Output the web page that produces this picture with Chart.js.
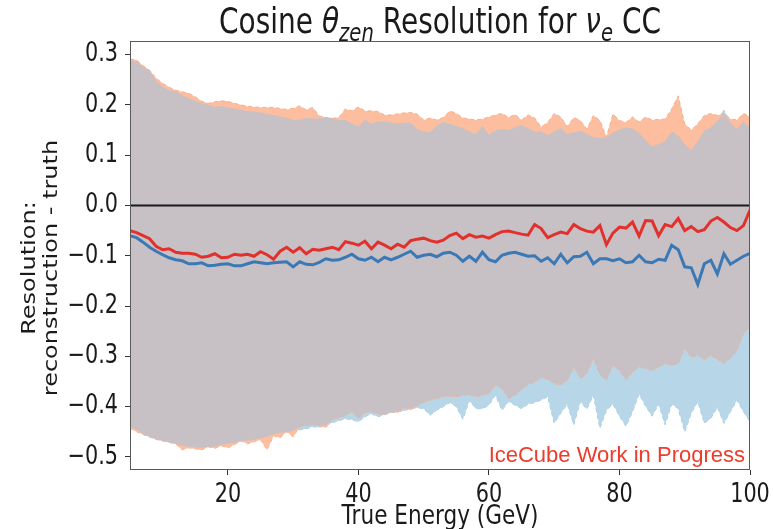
<!DOCTYPE html>
<html>
<head>
<meta charset="utf-8">
<script src="https://cdn.jsdelivr.net/npm/chart.js@4.4.0/dist/chart.umd.min.js"></script>
<style>
  html, body { margin: 0; padding: 0; background: #fff; }
  #wrap { width: 773px; height: 529px; }
</style>
</head>
<body>
<div id="wrap"><canvas id="resChart" width="773" height="529"></canvas></div>
<script>
// true energy bins (GeV)
const energy = [
  5, 6, 7, 8, 9, 10, 11, 12, 13, 14, 15, 16, 17, 18, 19, 20, 21, 22, 23, 24,
  25, 26, 27, 28, 29, 30, 31, 32, 33, 34, 35, 36, 37, 38, 39, 40, 41, 42, 43, 44,
  45, 46, 47, 48, 49, 50, 51, 52, 53, 54, 55, 56, 57, 58, 59, 60, 61, 62, 63, 64,
  65, 66, 67, 68, 69, 70, 71, 72, 73, 74, 75, 76, 77, 78, 79, 80, 81, 82, 83, 84,
  85, 86, 87, 88, 89, 90, 91, 92, 93, 94, 95, 96, 97, 98, 99, 100
];

// median resolution per bin
const redMedian = [
  -0.050, -0.054, -0.060, -0.066, -0.081, -0.088, -0.086, -0.093, -0.095, -0.095,
  -0.097, -0.103, -0.101, -0.096, -0.104, -0.103, -0.097, -0.099, -0.097, -0.101,
  -0.092, -0.098, -0.107, -0.091, -0.083, -0.093, -0.084, -0.096, -0.087, -0.089,
  -0.086, -0.083, -0.088, -0.072, -0.075, -0.079, -0.071, -0.086, -0.073, -0.079,
  -0.086, -0.077, -0.083, -0.070, -0.067, -0.065, -0.070, -0.073, -0.069, -0.060,
  -0.055, -0.066, -0.058, -0.063, -0.061, -0.065, -0.058, -0.052, -0.051, -0.054,
  -0.057, -0.059, -0.038, -0.046, -0.064, -0.058, -0.053, -0.056, -0.038, -0.046,
  -0.051, -0.053, -0.040, -0.078, -0.055, -0.043, -0.045, -0.033, -0.061, -0.030,
  -0.031, -0.060, -0.038, -0.042, -0.026, -0.050, -0.042, -0.052, -0.048, -0.031,
  -0.024, -0.033, -0.044, -0.050, -0.040, -0.009
];
const blueMedian = [
  -0.060, -0.064, -0.073, -0.083, -0.091, -0.098, -0.104, -0.108, -0.110, -0.116,
  -0.116, -0.114, -0.120, -0.119, -0.117, -0.116, -0.120, -0.120, -0.116, -0.112,
  -0.114, -0.116, -0.114, -0.113, -0.112, -0.122, -0.112, -0.117, -0.118, -0.113,
  -0.106, -0.109, -0.108, -0.103, -0.097, -0.106, -0.109, -0.103, -0.112, -0.103,
  -0.108, -0.103, -0.097, -0.091, -0.103, -0.099, -0.097, -0.102, -0.095, -0.093,
  -0.099, -0.111, -0.101, -0.111, -0.093, -0.108, -0.112, -0.099, -0.095, -0.093,
  -0.097, -0.101, -0.100, -0.111, -0.104, -0.116, -0.097, -0.114, -0.102, -0.101,
  -0.093, -0.116, -0.106, -0.106, -0.110, -0.106, -0.114, -0.112, -0.099, -0.112,
  -0.114, -0.107, -0.109, -0.079, -0.088, -0.122, -0.124, -0.157, -0.116, -0.109,
  -0.136, -0.096, -0.117, -0.109, -0.101, -0.095
];

// upper / lower edges of the resolution bands
const redUpper = [
  0.291, 0.289, 0.278, 0.269, 0.253, 0.243, 0.235, 0.229, 0.226, 0.223,
  0.216, 0.207, 0.203, 0.206, 0.208, 0.207, 0.203, 0.200, 0.197, 0.196,
  0.195, 0.195, 0.195, 0.193, 0.191, 0.193, 0.198, 0.190, 0.195, 0.178,
  0.175, 0.173, 0.175, 0.192, 0.188, 0.196, 0.188, 0.188, 0.187, 0.180,
  0.180, 0.182, 0.184, 0.185, 0.182, 0.170, 0.174, 0.170, 0.175, 0.188,
  0.183, 0.174, 0.172, 0.170, 0.172, 0.176, 0.180, 0.183, 0.175, 0.181,
  0.170, 0.180, 0.174, 0.156, 0.165, 0.183, 0.176, 0.157, 0.175, 0.169,
  0.152, 0.179, 0.169, 0.136, 0.182, 0.169, 0.165, 0.176, 0.166, 0.176,
  0.170, 0.171, 0.172, 0.192, 0.218, 0.162, 0.150, 0.162, 0.179, 0.183,
  0.179, 0.184, 0.172, 0.170, 0.183, 0.176
];
const blueUpper = [
  0.288, 0.286, 0.276, 0.268, 0.248, 0.236, 0.229, 0.227, 0.219, 0.213,
  0.208, 0.203, 0.200, 0.196, 0.198, 0.195, 0.193, 0.190, 0.188, 0.187,
  0.185, 0.182, 0.180, 0.177, 0.175, 0.170, 0.171, 0.174, 0.173, 0.173,
  0.175, 0.173, 0.170, 0.170, 0.163, 0.157, 0.170, 0.163, 0.167, 0.167,
  0.165, 0.163, 0.165, 0.165, 0.152, 0.147, 0.146, 0.158, 0.167, 0.162,
  0.158, 0.154, 0.147, 0.142, 0.158, 0.141, 0.149, 0.152, 0.150, 0.155,
  0.160, 0.154, 0.147, 0.147, 0.140, 0.147, 0.154, 0.142, 0.145, 0.149,
  0.142, 0.136, 0.134, 0.136, 0.145, 0.151, 0.155, 0.153, 0.144, 0.130,
  0.117, 0.122, 0.128, 0.147, 0.139, 0.122, 0.110, 0.128, 0.149, 0.155,
  0.168, 0.189, 0.165, 0.152, 0.167, 0.154
];
const redLower = [
  -0.443, -0.450, -0.455, -0.460, -0.465, -0.468, -0.471, -0.474, -0.486, -0.482,
  -0.484, -0.486, -0.480, -0.483, -0.478, -0.482, -0.476, -0.468, -0.474, -0.470,
  -0.466, -0.486, -0.458, -0.462, -0.450, -0.460, -0.440, -0.438, -0.436, -0.438,
  -0.442, -0.426, -0.422, -0.418, -0.410, -0.424, -0.412, -0.410, -0.414, -0.416,
  -0.410, -0.412, -0.402, -0.406, -0.398, -0.392, -0.387, -0.384, -0.380, -0.380,
  -0.380, -0.378, -0.377, -0.380, -0.378, -0.374, -0.357, -0.364, -0.384, -0.377,
  -0.366, -0.356, -0.351, -0.342, -0.346, -0.354, -0.357, -0.347, -0.321, -0.344,
  -0.334, -0.304, -0.337, -0.347, -0.318, -0.328, -0.346, -0.331, -0.321, -0.324,
  -0.328, -0.321, -0.314, -0.318, -0.314, -0.284, -0.302, -0.298, -0.307, -0.298,
  -0.306, -0.314, -0.304, -0.288, -0.255, -0.240
];
const blueLower = [
  -0.440, -0.446, -0.455, -0.460, -0.465, -0.468, -0.471, -0.474, -0.478, -0.480,
  -0.481, -0.482, -0.480, -0.480, -0.476, -0.474, -0.472, -0.468, -0.468, -0.466,
  -0.463, -0.460, -0.455, -0.452, -0.450, -0.448, -0.446, -0.444, -0.440, -0.441,
  -0.437, -0.432, -0.428, -0.424, -0.426, -0.430, -0.420, -0.414, -0.420, -0.416,
  -0.412, -0.410, -0.408, -0.404, -0.402, -0.404, -0.417, -0.407, -0.400, -0.392,
  -0.400, -0.425, -0.388, -0.404, -0.404, -0.397, -0.377, -0.407, -0.390, -0.397,
  -0.404, -0.395, -0.392, -0.387, -0.380, -0.433, -0.413, -0.395, -0.436, -0.390,
  -0.405, -0.377, -0.443, -0.407, -0.395, -0.419, -0.439, -0.410, -0.375, -0.399,
  -0.419, -0.395, -0.436, -0.395, -0.404, -0.450, -0.413, -0.390, -0.433, -0.423,
  -0.401, -0.433, -0.410, -0.387, -0.410, -0.430
];

const xTicks = [20, 40, 60, 80, 100];
const yTicks = [-0.5, -0.4, -0.3, -0.2, -0.1, 0.0, 0.1, 0.2, 0.3];

// where both bands cover the same range
const overlapUpper = redUpper.map((v, i) => Math.min(v, blueUpper[i]));
const overlapLower = redLower.map((v, i) => Math.max(v, blueLower[i]));

const pts = arr => arr.map((v, i) => ({ x: energy[i], y: v }));

const FONT = '"DejaVu Sans", sans-serif';
const SQUEEZE = 0.8;   // narrow glyphs, tall text
const INK = '#1a1a1a';

function band(values, fill, face, edge, order) {
  return {
    data: pts(values),
    fill: fill,
    backgroundColor: face,
    borderColor: edge,
    borderWidth: edge ? 1 : 0,
    borderDash: [4, 3],
    pointRadius: 0,
    tension: 0,
    order: order
  };
}

// horizontally squeezed text
function narrowText(ctx, txt, x, y, size, align, baseline) {
  ctx.save();
  ctx.translate(x, y);
  ctx.scale(SQUEEZE, 1);
  ctx.font = `${size}px ${FONT}`;
  ctx.textAlign = align;
  ctx.textBaseline = baseline;
  ctx.fillText(txt, 0, 0);
  ctx.restore();
}

// title with mathtext-like subscripts
function drawRichText(ctx, parts, cx, baseline, size) {
  const fontFor = p => `${p.italic ? 'italic ' : ''}${p.sub ? size * 0.7 : size}px ${FONT}`;
  let total = 0;
  parts.forEach(p => { ctx.font = fontFor(p); total += ctx.measureText(p.t).width; });
  ctx.save();
  ctx.translate(cx - total * SQUEEZE / 2, baseline);
  ctx.scale(SQUEEZE, 1);
  ctx.textAlign = 'left';
  ctx.textBaseline = 'alphabetic';
  let x = 0;
  parts.forEach(p => {
    ctx.font = fontFor(p);
    ctx.fillText(p.t, x, p.sub ? size * 0.22 : 0);
    x += ctx.measureText(p.t).width;
  });
  ctx.restore();
}

const decorations = {
  id: 'decorations',
  afterDatasetsDraw(chart) {
    const { ctx, chartArea: a, scales: { y } } = chart;
    const y0 = y.getPixelForValue(0);
    ctx.save();
    ctx.strokeStyle = INK;
    ctx.lineWidth = 2;
    ctx.beginPath();
    ctx.moveTo(a.left, y0);
    ctx.lineTo(a.right, y0);
    ctx.stroke();
    ctx.restore();
  },
  afterDraw(chart) {
    const { ctx, chartArea: a, scales: { x, y } } = chart;
    ctx.save();
    // axes frame
    ctx.strokeStyle = '#5a5a5a';
    ctx.lineWidth = 1;
    ctx.strokeRect(a.left + 0.5, a.top + 0.5, a.right - a.left - 1, a.bottom - a.top - 1);

    ctx.fillStyle = INK;
    // tick labels
    yTicks.forEach(v => {
      const label = (v < 0 ? '\u2212' : '') + Math.abs(v).toFixed(1);
      narrowText(ctx, label, a.left - 12, y.getPixelForValue(v), 26, 'right', 'middle');
    });
    xTicks.forEach(v => {
      narrowText(ctx, String(v), x.getPixelForValue(v), 502, 26, 'center', 'alphabetic');
    });

    drawRichText(ctx, [
      { t: 'Cosine ' },
      { t: 'θ', italic: true },
      { t: 'zen', italic: true, sub: true },
      { t: ' Resolution for ' },
      { t: 'ν', italic: true },
      { t: 'e', italic: true, sub: true },
      { t: ' CC' }
    ], (a.left + a.right) / 2, 33, 35);

    // x axis title
    narrowText(ctx, 'True Energy (GeV)', (a.left + a.right) / 2, 524, 27, 'center', 'alphabetic');

    // y axis title, two lines
    const midY = 268;
    [['Resolution:', 30], ['reconstruction - truth', 52]].forEach(([txt, cx]) => {
      ctx.save();
      ctx.translate(cx, midY);
      ctx.rotate(-Math.PI / 2);
      ctx.scale(1, SQUEEZE);
      ctx.font = `24px ${FONT}`;
      ctx.textAlign = 'center';
      ctx.textBaseline = 'middle';
      ctx.fillText(txt, 0, 0);
      ctx.restore();
    });

    // label in the lower right corner
    ctx.font = '22px "Liberation Sans", Arial, sans-serif';
    ctx.fillStyle = '#ee3b2b';
    ctx.textAlign = 'right';
    ctx.textBaseline = 'alphabetic';
    ctx.fillText('IceCube Work in Progress', a.right - 5, a.bottom - 8);
    ctx.restore();
  }
};

new Chart(document.getElementById('resChart'), {
  type: 'line',
  data: {
    datasets: [
      band(blueUpper, '+1', '#b7d7e9', '#9cc2dc', 6),
      band(blueLower, false, '#b7d7e9', '#9cc2dc', 6),
      band(redUpper, '+1', '#fdbe9f', '#f9ad8a', 5),
      band(redLower, false, '#fdbe9f', '#f9ad8a', 5),
      band(overlapUpper, '+1', '#c7c0c4', null, 4),
      band(overlapLower, false, '#c7c0c4', null, 4),
      {
        data: pts(redMedian),
        borderColor: '#e2312c',
        borderWidth: 3,
        pointRadius: 0,
        fill: false,
        tension: 0,
        order: 1
      },
      {
        data: pts(blueMedian),
        borderColor: '#3b78b6',
        borderWidth: 3,
        pointRadius: 0,
        fill: false,
        tension: 0,
        order: 2
      }
    ]
  },
  options: {
    responsive: false,
    animation: false,
    devicePixelRatio: 1,
    layout: { padding: { top: 41, right: 23, left: 0, bottom: 0 } },
    plugins: {
      legend: { display: false },
      tooltip: { enabled: false }
    },
    scales: {
      x: {
        type: 'linear',
        min: 5,
        max: 100,
        afterBuildTicks: s => { s.ticks = xTicks.map(v => ({ value: v })); },
        afterFit: s => { s.height = 59; },
        grid: { drawOnChartArea: false, drawTicks: true, tickLength: 5, tickColor: '#333' },
        border: { display: false },
        ticks: { display: false }
      },
      y: {
        min: -0.526,
        max: 0.327,
        afterBuildTicks: s => { s.ticks = yTicks.map(v => ({ value: v })); },
        afterFit: s => { s.width = 130; },
        grid: { drawOnChartArea: false, drawTicks: true, tickLength: 5, tickColor: '#333' },
        border: { display: false },
        ticks: { display: false }
      }
    }
  },
  plugins: [decorations]
});
</script>
</body>
</html>
